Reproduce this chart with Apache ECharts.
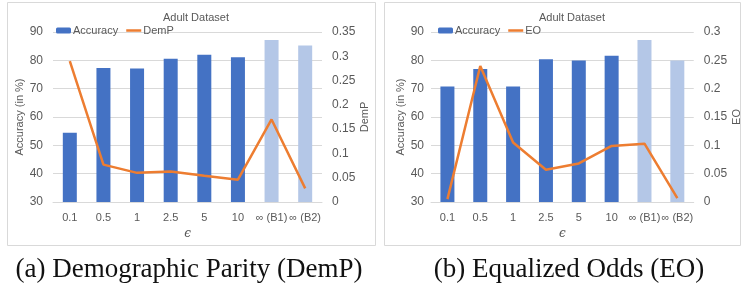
<!DOCTYPE html>
<html>
<head>
<meta charset="utf-8">
<script src="https://cdn.jsdelivr.net/npm/echarts@6/dist/echarts.min.js"></script>
<style>
  html, body { margin: 0; padding: 0; background: #fff; }
  #chart { width: 743px; height: 286px; }
</style>
</head>
<body>
<div id="chart"></div>
<script>
// epsilon values, the two right-most ones are the non private baselines
const categories = ['0.1', '0.5', '1', '2.5', '5', '10', '∞ (B1)', '∞ (B2)'];

// (a) demographic parity
const accDemP = [54.4, 77.3, 77.1, 80.6, 82.0, 81.1, 87.2, 85.2];
const demP = [0.290, 0.077, 0.060, 0.063, 0.054, 0.046, 0.170, 0.028];

// (b) equalized odds
const accEO = [70.8, 76.9, 70.8, 80.4, 79.9, 81.6, 87.2, 79.9];
const eo = [0.005, 0.240, 0.105, 0.057, 0.068, 0.099, 0.103, 0.007];

const accTicks = { min: 30, max: 90, interval: 10 };
const demPTicks = { min: 0, max: 0.35, interval: 0.05 };
const eoTicks = { min: 0, max: 0.3, interval: 0.05 };

const BLUE = '#4472C4';
const LIGHT = '#B4C7E7';
const ORANGE = '#ED7D31';
const GREY = '#595959';
const GRID = '#D9D9D9';
const FONT = 'Liberation Sans';
// plain line for the legend, no marker in the middle
const LINE_ICON = 'path://M0,0 L30,0 L30,5 L0,5 Z';

const chart = echarts.init(document.getElementById('chart'), null, { renderer: 'canvas' });

function barData(values) {
  return values.map((v, i) => ({
    value: v,
    itemStyle: { color: categories[i].startsWith('∞') ? LIGHT : BLUE }
  }));
}

function xAxis(gridIndex) {
  return {
    type: 'category',
    gridIndex,
    data: categories,
    name: 'ϵ',
    nameLocation: 'middle',
    nameGap: 26,
    nameTextStyle: { color: GREY, fontSize: 12, fontFamily: 'DejaVu Serif', fontStyle: 'italic' },
    axisLine: { lineStyle: { color: GRID } },
    axisTick: { show: false },
    axisLabel: { color: GREY, fontSize: 11, fontFamily: FONT, interval: 0, margin: 10 }
  };
}

function leftAxis(gridIndex, margin, nameGap) {
  return {
    type: 'value',
    gridIndex,
    ...accTicks,
    name: 'Accuracy (in %)',
    nameLocation: 'middle',
    nameGap,
    nameTextStyle: { color: GREY, fontSize: 11, fontFamily: FONT },
    axisLine: { show: false },
    axisTick: { show: false },
    axisLabel: { color: GREY, fontSize: 12, fontFamily: FONT, margin },
    splitLine: { lineStyle: { color: GRID } }
  };
}

function rightAxis(gridIndex, ticks, name, nameGap) {
  return {
    type: 'value',
    gridIndex,
    position: 'right',
    ...ticks,
    name,
    nameLocation: 'middle',
    nameGap,
    nameTextStyle: { color: GREY, fontSize: 11, fontFamily: FONT },
    axisLine: { show: false },
    axisTick: { show: false },
    axisLabel: { color: GREY, fontSize: 12, fontFamily: FONT, margin: 10 },
    splitLine: { show: false }
  };
}

const option = {
  backgroundColor: '#fff',
  animation: false,
  title: [
    {
      text: 'Adult Dataset', left: 191, top: 7, textAlign: 'center',
      textStyle: { color: GREY, fontSize: 11, fontWeight: 'normal', fontFamily: FONT }
    },
    {
      text: 'Adult Dataset', left: 567, top: 7, textAlign: 'center',
      textStyle: { color: GREY, fontSize: 11, fontWeight: 'normal', fontFamily: FONT }
    }
  ],
  legend: [
    {
      data: ['Accuracy', { name: 'DemP', icon: LINE_ICON }],
      left: 51, top: 20, itemWidth: 15, itemHeight: 6, itemGap: 8,
      textStyle: { color: GREY, fontSize: 11, fontFamily: FONT, padding: [0, 0, 0, -3] }
    },
    {
      data: ['Accuracy', { name: 'EO', icon: LINE_ICON }],
      left: 433, top: 20, itemWidth: 15, itemHeight: 6, itemGap: 8,
      textStyle: { color: GREY, fontSize: 11, fontFamily: FONT, padding: [0, 0, 0, -3] }
    }
  ],
  grid: [
    { left: 53, top: 32, width: 269, height: 170 },
    { left: 431, top: 32, width: 268, height: 170 }
  ],
  xAxis: [xAxis(0), xAxis(1)],
  yAxis: [
    leftAxis(0, 10, 20),
    rightAxis(0, demPTicks, 'DemP', 29),
    leftAxis(1, 7, 21),
    rightAxis(1, eoTicks, 'EO', 33)
  ],
  series: [
    {
      name: 'Accuracy', type: 'bar', xAxisIndex: 0, yAxisIndex: 0,
      barWidth: 14, itemStyle: { color: BLUE }, data: barData(accDemP)
    },
    {
      name: 'DemP', type: 'line', xAxisIndex: 0, yAxisIndex: 1,
      symbol: 'none', lineStyle: { color: ORANGE, width: 2.5 }, itemStyle: { color: ORANGE },
      data: demP
    },
    {
      name: 'Accuracy', type: 'bar', xAxisIndex: 1, yAxisIndex: 2,
      barWidth: 14, itemStyle: { color: BLUE }, data: barData(accEO)
    },
    {
      name: 'EO', type: 'line', xAxisIndex: 1, yAxisIndex: 3,
      symbol: 'none', lineStyle: { color: ORANGE, width: 2.5 }, itemStyle: { color: ORANGE },
      data: eo
    }
  ],
  graphic: [
    { type: 'rect', shape: { x: 7.5, y: 2.5, width: 368, height: 243 }, style: { fill: null, stroke: GRID, lineWidth: 1 }, silent: true },
    { type: 'rect', shape: { x: 384.5, y: 2.5, width: 356, height: 243 }, style: { fill: null, stroke: GRID, lineWidth: 1 }, silent: true },
    {
      type: 'text', x: 189, y: 270,
      style: { text: '(a) Demographic Parity (DemP)', fill: '#111', font: '27px "Liberation Serif"', align: 'center', verticalAlign: 'middle' }
    },
    {
      type: 'text', x: 569, y: 270,
      style: { text: '(b) Equalized Odds (EO)', fill: '#111', font: '27px "Liberation Serif"', align: 'center', verticalAlign: 'middle' }
    }
  ]
};

chart.setOption(option);
</script>
</body>
</html>
